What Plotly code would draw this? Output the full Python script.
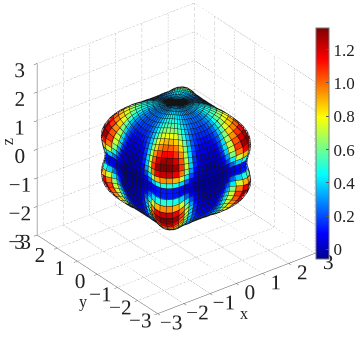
import plotly.graph_objects as go
from math import sin, cos, radians

# Values: one octant of the shape (the rest repeats by symmetry)
POLAR_STEP = 5
AZIMUTH_STEP = 5
cell_values = [
    [.33,.33,.33,.33,.33,.33,.33,.33,.33],
    [.33,.33,.33,.33,.33,.33,.34,.34,.34],
    [.32,.32,.32,.33,.33,.34,.35,.36,.36],
    [.30,.30,.30,.31,.33,.35,.37,.39,.40],
    [.27,.27,.28,.30,.33,.37,.40,.43,.44],
    [.24,.24,.26,.29,.33,.39,.44,.47,.49],
    [.21,.21,.24,.28,.34,.42,.50,.55,.57],
    [.18,.18,.21,.26,.34,.46,.57,.64,.66],
    [.15,.15,.18,.24,.35,.50,.65,.75,.78],
    [.11,.12,.15,.22,.36,.56,.75,.86,.90],
    [.08,.09,.12,.20,.38,.62,.85,.97,1.02],
    [.05,.06,.09,.18,.40,.68,.95,1.08,1.15],
    [.03,.03,.06,.16,.40,.72,1.03,1.20,1.28],
    [.00,.01,.04,.14,.38,.72,1.08,1.29,1.33],
    [-.01,.00,.02,.10,.30,.62,.98,1.17,1.22],
    [-.02,-.01,.01,.06,.19,.42,.72,.90,.95],
    [-.03,-.03,-.01,.02,.09,.22,.38,.47,.50],
    [-.05,-.05,-.04,-.02,.02,.06,.10,.12,.13],
]
radius_values = [
    [1.94,1.94,1.94,1.94,1.94,1.94,1.94,1.94,1.94,1.94],
    [1.94,1.94,1.94,1.94,1.94,1.94,1.94,1.94,1.94,1.94],
    [1.95,1.95,1.95,1.95,1.95,1.96,1.96,1.96,1.96,1.96],
    [1.96,1.96,1.96,1.97,1.97,1.98,1.98,1.99,1.99,1.99],
    [1.97,1.97,1.98,1.98,1.99,2.00,2.01,2.02,2.03,2.03],
    [1.97,1.97,1.98,1.99,2.00,2.01,2.03,2.05,2.06,2.06],
    [1.96,1.96,1.97,1.98,2.00,2.02,2.04,2.07,2.09,2.10],
    [1.95,1.95,1.96,1.98,2.00,2.02,2.05,2.10,2.13,2.14],
    [1.93,1.93,1.94,1.96,1.99,2.02,2.07,2.13,2.17,2.18],
    [1.90,1.90,1.92,1.94,1.97,2.01,2.07,2.15,2.21,2.23],
    [1.87,1.87,1.89,1.91,1.95,1.99,2.07,2.18,2.25,2.27],
    [1.84,1.84,1.86,1.88,1.92,1.97,2.07,2.20,2.29,2.32],
    [1.80,1.80,1.82,1.84,1.88,1.95,2.08,2.23,2.33,2.36],
    [1.79,1.79,1.80,1.82,1.86,1.93,2.08,2.24,2.35,2.38],
    [1.78,1.78,1.79,1.81,1.85,1.91,2.06,2.24,2.35,2.38],
    [1.77,1.77,1.78,1.80,1.83,1.88,2.02,2.20,2.31,2.34],
    [1.77,1.77,1.77,1.78,1.81,1.85,1.96,2.13,2.23,2.26],
    [1.76,1.76,1.76,1.77,1.79,1.83,1.91,2.05,2.15,2.18],
    [1.76,1.76,1.76,1.77,1.78,1.82,1.89,2.02,2.11,2.14],
]
axis_ticks = [-3, -2, -1, 0, 1, 2, 3]
colorbar_ticks = [0, 0.2, 0.4, 0.6, 0.8, 1.0, 1.2]
colorbar_labels = ["0", "0.2", "0.4", "0.6", "0.8", "1.0", "1.2"]
color_min, color_max = -0.057, 1.33
jet = [[0,"rgb(0,0,143)"],[.11,"rgb(0,0,255)"],[.365,"rgb(0,255,255)"],
       [.615,"rgb(255,255,0)"],[.865,"rgb(255,0,0)"],[1,"rgb(128,0,0)"]]

n_rows = 2 * len(cell_values)
n_cols = 360 // AZIMUTH_STEP

def fold_phi(phi):
    p = phi % 90
    return 90 - p if p > 45 else p

def radius(i, j):
    ii = min(i, n_rows - i)
    return radius_values[ii][int(fold_phi(j * AZIMUTH_STEP) // AZIMUTH_STEP)]

def cell(i, j):
    ii = min(i, n_rows - 1 - i)
    p = fold_phi(j * AZIMUTH_STEP + AZIMUTH_STEP / 2)
    return cell_values[ii][int(p // AZIMUTH_STEP)]

def point(i, j, grow=1.0):
    t, f = radians(i * POLAR_STEP), radians(j * AZIMUTH_STEP)
    r = radius(i, j) * grow
    return r * sin(t) * cos(f), r * sin(t) * sin(f), r * cos(t)

vx, vy, vz = [], [], []
for i in range(n_rows + 1):
    for j in range(n_cols):
        x, y, z = point(i, j)
        vx.append(x); vy.append(y); vz.append(z)

I, J, K, intensity = [], [], [], []
for i in range(n_rows):
    for j in range(n_cols):
        a = i * n_cols + j
        b = i * n_cols + (j + 1) % n_cols
        c = (i + 1) * n_cols + (j + 1) % n_cols
        d = (i + 1) * n_cols + j
        v = cell(i, j)
        I += [a, a]; J += [b, c]; K += [c, d]; intensity += [v, v]

fig = go.Figure()

def dotted(xs, ys, zs):
    fig.add_trace(go.Scatter3d(x=xs, y=ys, z=zs, mode="lines", hoverinfo="skip", showlegend=False,
                               line=dict(color="#8a8a8a", width=1, dash="dot")))

lo, hi = axis_ticks[0], axis_ticks[-1]
for v in axis_ticks:
    dotted([v, v], [lo, hi], [lo, lo])
    dotted([lo, hi], [v, v], [lo, lo])
    dotted([v, v], [hi, hi], [lo, hi])
    dotted([lo, hi], [hi, hi], [v, v])
    dotted([hi, hi], [v, v], [lo, hi])
    dotted([hi, hi], [lo, hi], [v, v])

fig.add_trace(go.Mesh3d(
    x=vx, y=vy, z=vz, i=I, j=J, k=K, intensity=intensity, intensitymode="cell",
    colorscale=jet, cmin=color_min, cmax=color_max, flatshading=True,
    lighting=dict(ambient=1, diffuse=0, specular=0, roughness=1, fresnel=0),
    hoverinfo="skip",
    colorbar=dict(x=318/359, xanchor="left", xref="paper", y=(357-259)/357, yanchor="bottom", yref="paper",
                  lenmode="pixels", len=231, thicknessmode="pixels", thickness=13,
                  tickmode="array", tickvals=colorbar_ticks, ticktext=colorbar_labels,
                  ticks="inside", ticklen=3, tickcolor="#555", outlinecolor="#777", outlinewidth=1,
                  xpad=0, ypad=0, tickfont=dict(family="Liberation Serif", size=17, color="#222")),
))

lx, ly, lz = [], [], []
for i in range(n_rows + 1):
    for j in range(n_cols + 1):
        x, y, z = point(i, j % n_cols, 1.012)
        lx.append(x); ly.append(y); lz.append(z)
    lx.append(None); ly.append(None); lz.append(None)
for j in range(n_cols):
    for i in range(n_rows + 1):
        x, y, z = point(i, j, 1.012)
        lx.append(x); ly.append(y); lz.append(z)
    lx.append(None); ly.append(None); lz.append(None)
fig.add_trace(go.Scatter3d(x=lx, y=ly, z=lz, mode="lines", hoverinfo="skip", showlegend=False,
                           connectgaps=False, line=dict(color="rgb(20,20,20)", width=1)))

axis = dict(range=[lo, hi], tickvals=axis_ticks, showgrid=False, zeroline=False, showbackground=False,
            showspikes=False, showline=True, linecolor="#555", linewidth=1, ticks="outside", ticklen=4,
            tickcolor="#555", tickangle=0, title=dict(text=""),
            tickfont=dict(family="Liberation Serif", size=16, color="#222"))
title_font = dict(family="Liberation Serif", size=16, color="#222")
fig.update_layout(
    width=359, height=357, autosize=False, margin=dict(l=0, r=0, t=0, b=0), paper_bgcolor="white",
    font=dict(family="Liberation Serif", color="#222"),
    scene=dict(
        domain=dict(x=[0, 0.986], y=[0, 1]),
        xaxis=axis, yaxis=axis, zaxis=axis,
        aspectmode="manual", aspectratio=dict(x=1.11, y=1.11, z=1.11),
        camera=dict(projection=dict(type="orthographic"), center=dict(x=0, y=0, z=-0.13),
                    eye=dict(x=-0.527*2.9, y=-0.687*2.9, z=0.5*2.9-0.13), up=dict(x=0, y=0, z=1)),
        annotations=[
            dict(x=0.3, y=-3, z=-3, text="x", showarrow=False, font=title_font, yshift=-33),
            dict(x=-3, y=-0.2, z=-3, text="y", showarrow=False, font=title_font, yshift=-25, xshift=-18),
            dict(x=-3, y=3, z=0.25, text="z", showarrow=False, font=title_font, textangle=-90, xshift=-30),
        ],
    ),
)
fig.write_html("out.html", config=dict(displayModeBar=False),
               post_script="document.body.style.margin='0';document.body.style.overflow='hidden';")
